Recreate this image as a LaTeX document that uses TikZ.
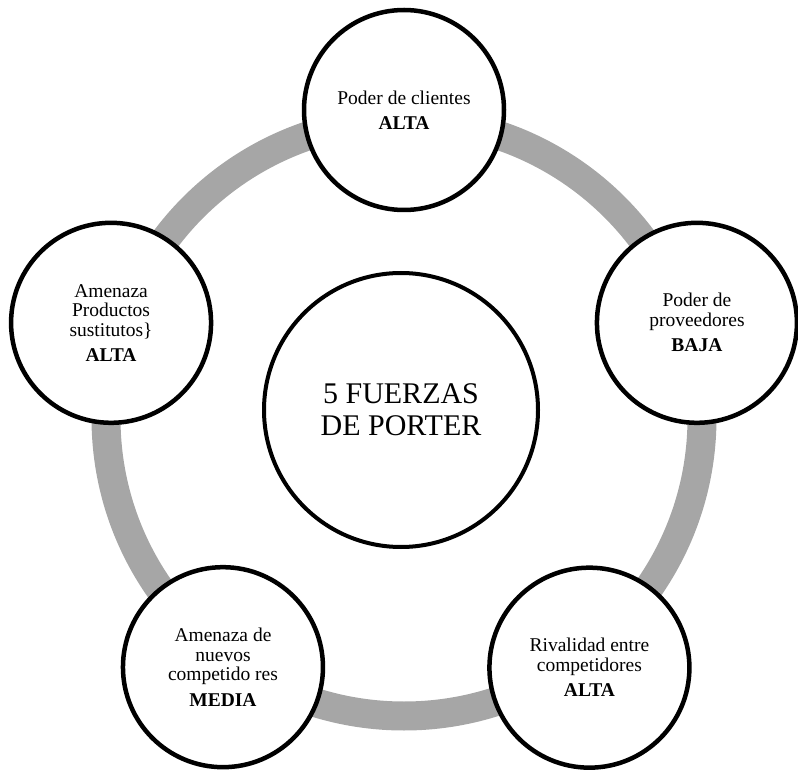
\documentclass[tikz,border=0pt]{standalone}
\usepackage{fontspec}
\setmainfont{Liberation Serif}
\usepackage{tikz}
\usetikzlibrary{positioning, calc}
\definecolor{anillo}{RGB}{166,166,166}

\begin{document}
\begin{tikzpicture}[x=1pt, y=1pt,
    fuerza/.style={circle, draw=black, line width=4.5pt, fill=white,
        minimum size=200pt, inner sep=0pt, align=center,
        font=\fontsize{19.5}{19.5}\selectfont},
    centro/.style={circle, draw=black, line width=4pt, fill=white,
        minimum size=274pt, inner sep=0pt, align=center,
        font=\fontsize{30}{32}\selectfont}]
    \useasboundingbox (0,0) rectangle (798,772);
    % Gray ring that links the five forces
    \coordinate (o) at (404,354);
    \draw[anillo, line width=29pt] (o) circle (298);
    % Centre circle
    \node[centro] (porter) at (401,362) {5 FUERZAS\\DE PORTER};
    % The five forces, on a pentagon round the ring centre
    \node[fuerza] (clientes) at ($(o)+(90:308)$)
        {Poder de clientes\\[6pt]\textbf{ALTA}};
    \node[fuerza] (proveedores) at ($(o)+(18:308)$)
        {Poder de\\proveedores\\[6pt]\textbf{BAJA}};
    \node[fuerza] (rivalidad) at ($(o)+(-53.4:311)$)
        {Rivalidad entre\\competidores\\[6pt]\textbf{ALTA}};
    \node[fuerza] (nuevos) at ($(o)+(-126:308)$)
        {Amenaza de\\nuevos\\competido res\\[6pt]\textbf{MEDIA}};
    \node[fuerza] (sustitutos) at ($(o)+(162:308)$)
        {Amenaza\\Productos\\sustitutos\}\\[6pt]\textbf{ALTA}};
\end{tikzpicture}
\end{document}
